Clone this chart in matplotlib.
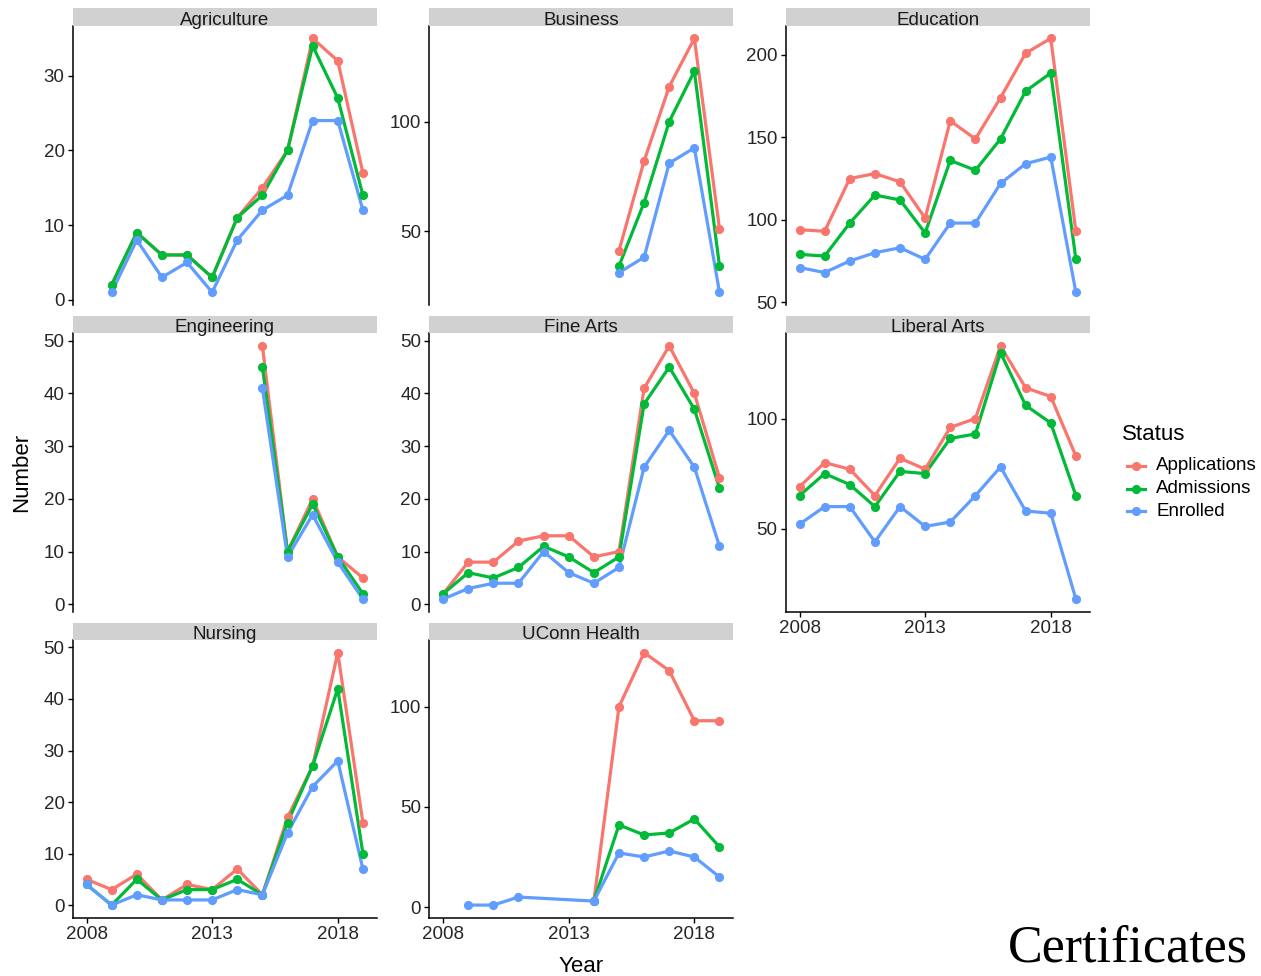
import matplotlib
matplotlib.use("Agg")
import matplotlib.pyplot as plt
from matplotlib.lines import Line2D

plt.rcParams['font.family'] = ['Liberation Sans', 'DejaVu Sans']

years = list(range(2008, 2020))
statuses = ["Applications", "Admissions", "Enrolled"]
colors = ["#F8766D", "#00BA38", "#619CFF"]
N = None

agriculture = {
    "Applications": [N, 2, 9, 6, 6, 3, 11, 15, 20, 35, 32, 17],
    "Admissions":   [N, 2, 9, 6, 6, 3, 11, 14, 20, 34, 27, 14],
    "Enrolled":     [N, 1, 8, 3, 5, 1, 8, 12, 14, 24, 24, 12],
}
business = {
    "Applications": [N, N, N, N, N, N, N, 41, 82, 116, 138, 51],
    "Admissions":   [N, N, N, N, N, N, N, 34, 63, 100, 123, 34],
    "Enrolled":     [N, N, N, N, N, N, N, 31, 38, 81, 88, 22],
}
education = {
    "Applications": [94, 93, 125, 128, 123, 101, 160, 149, 174, 201, 210, 93],
    "Admissions":   [79, 78, 98, 115, 112, 92, 136, 130, 149, 178, 189, 76],
    "Enrolled":     [71, 68, 75, 80, 83, 76, 98, 98, 122, 134, 138, 56],
}
engineering = {
    "Applications": [N, N, N, N, N, N, N, 49, 10, 20, 9, 5],
    "Admissions":   [N, N, N, N, N, N, N, 45, 10, 19, 9, 2],
    "Enrolled":     [N, N, N, N, N, N, N, 41, 9, 17, 8, 1],
}
fine_arts = {
    "Applications": [2, 8, 8, 12, 13, 13, 9, 10, 41, 49, 40, 24],
    "Admissions":   [2, 6, 5, 7, 11, 9, 6, 9, 38, 45, 37, 22],
    "Enrolled":     [1, 3, 4, 4, 10, 6, 4, 7, 26, 33, 26, 11],
}
liberal_arts = {
    "Applications": [69, 80, 77, 65, 82, 77, 96, 100, 133, 114, 110, 83],
    "Admissions":   [65, 75, 70, 60, 76, 75, 91, 93, 130, 106, 98, 65],
    "Enrolled":     [52, 60, 60, 44, 60, 51, 53, 65, 78, 58, 57, 18],
}
nursing = {
    "Applications": [5, 3, 6, 1, 4, 3, 7, 2, 17, 27, 49, 16],
    "Admissions":   [4, 0, 5, 1, 3, 3, 5, 2, 16, 27, 42, 10],
    "Enrolled":     [4, 0, 2, 1, 1, 1, 3, 2, 14, 23, 28, 7],
}
uconn_health = {
    "Applications": [N, N, N, N, N, N, 3, 100, 127, 118, 93, 93],
    "Admissions":   [N, N, N, N, N, N, 3, 41, 36, 37, 44, 30],
    "Enrolled":     [N, 1, 1, 5, N, N, 3, 27, 25, 28, 25, 15],
}

panels = [
    ("Agriculture", agriculture, [0, 10, 20, 30]),
    ("Business", business, [50, 100]),
    ("Education", education, [50, 100, 150, 200]),
    ("Engineering", engineering, [0, 10, 20, 30, 40, 50]),
    ("Fine Arts", fine_arts, [0, 10, 20, 30, 40, 50]),
    ("Liberal Arts", liberal_arts, [50, 100]),
    ("Nursing", nursing, [0, 10, 20, 30, 40, 50]),
    ("UConn Health", uconn_health, [0, 50, 100]),
]
x_ticks = [2008, 2013, 2018]

W, H = 1261, 976
fig = plt.figure(figsize=(W / 100, H / 100), dpi=100)

col_left = [72.7, 429.3, 785.7]
panel_w = 304.0
row_top = [25.7, 333.3, 640.0]
row_bot = [305.0, 611.7, 917.7]
strip_h = 17.4

TICK_FS = 13.5
TICK_COLOR = "#262626"
bottom_axis = {"Liberal Arts", "Nursing", "UConn Health"}

for i, (name, data, yt) in enumerate(panels):
    r, c = divmod(i, 3)
    left = col_left[c]
    top = row_top[r]
    bot = row_bot[r]
    ax = fig.add_axes([left / W, 1 - bot / H, panel_w / W, (bot - top) / H])
    allv = []
    for s, col in zip(statuses, colors):
        xs = [y for y, v in zip(years, data[s]) if v is not None]
        vs = [v for v in data[s] if v is not None]
        allv += vs
        ax.plot(xs, vs, color=col, lw=2.3, solid_capstyle='butt', zorder=2)
    for s, col in zip(statuses, colors):
        xs = [y for y, v in zip(years, data[s]) if v is not None]
        vs = [v for v in data[s] if v is not None]
        ax.plot(xs, vs, 'o', color=col, ms=6.6, mew=0, zorder=3)
    lo, hi = min(allv), max(allv)
    pad = (hi - lo) * 0.05
    ax.set_ylim(lo - pad, hi + pad)
    ax.set_xlim(2008 - 0.55, 2019 + 0.55)
    ax.set_yticks(yt)
    ax.set_xticks(x_ticks)
    for sp in ["top", "right"]:
        ax.spines[sp].set_visible(False)
    ax.spines["left"].set_linewidth(1.1)
    ax.tick_params(axis='y', length=3.8, width=1.0, labelsize=TICK_FS,
                   labelcolor=TICK_COLOR, pad=2)
    if name in bottom_axis:
        ax.spines["bottom"].set_linewidth(1.1)
        ax.tick_params(axis='x', length=3.8, width=1.0, labelsize=TICK_FS,
                       labelcolor=TICK_COLOR, pad=2)
    else:
        ax.spines["bottom"].set_visible(False)
        ax.tick_params(axis='x', length=0, labelbottom=False)
    # strip
    sax = fig.add_axes([left / W, 1 - top / H, panel_w / W, strip_h / H])
    sax.set_facecolor("#D1D1D1")
    sax.set_xticks([]); sax.set_yticks([])
    for sp in sax.spines.values():
        sp.set_visible(False)
    sax.text(0.5, 0.32, name, ha='center', va='center', fontsize=13.5,
             color="#1a1a1a", transform=sax.transAxes)

# overlay for labels / legend in pixel coords
ov = fig.add_axes([0, 0, 1, 1], zorder=-1)
ov.set_xlim(0, W); ov.set_ylim(H, 0); ov.axis('off')
ov.text(22, 472, "Number", rotation=90, ha='center', va='center', fontsize=16, color='black')
ov.text(581, 966, "Year", ha='center', va='center', fontsize=16, color='black')

ov.text(1122, 434, "Status", ha='left', va='center', fontsize=16, color='black')
for k, (s, col) in enumerate(zip(statuses, colors)):
    yy = 466 + k * 22.5
    ov.add_line(Line2D([1127, 1145], [yy, yy], color=col, lw=2.3))
    ov.plot([1136], [yy], 'o', color=col, ms=6.6, mew=0)
    ov.text(1156, yy, s, ha='left', va='center', fontsize=13.5, color='black')

ov.text(1128, 948, "Certificates", ha='center', va='center', fontsize=37.5,
        family=['Liberation Serif', 'DejaVu Serif'], color='black')

fig.savefig("out.png", dpi=100)
